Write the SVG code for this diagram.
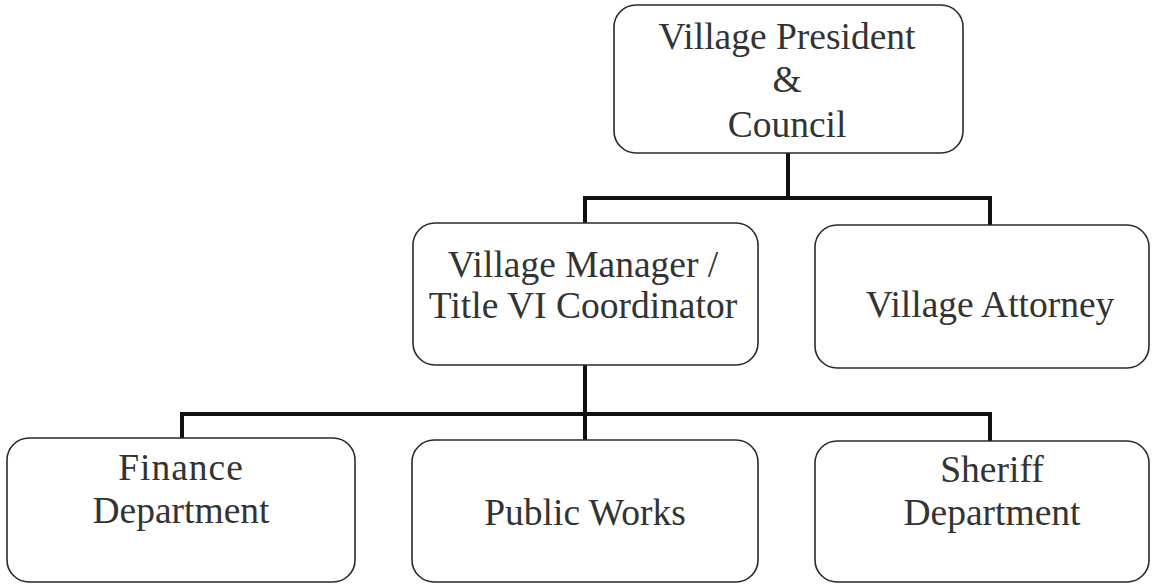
<svg xmlns="http://www.w3.org/2000/svg" width="1157" height="585" viewBox="0 0 1157 585">
<style>
.box{fill:#fff;stroke:#2a2a2a;stroke-width:1.6}
.t{font-family:"Liberation Serif","Times New Roman",serif;font-size:37.5px;fill:#333;text-anchor:middle}
.c{fill:none;stroke:#111;stroke-width:4;stroke-linejoin:miter}
</style>
<rect width="1157" height="585" fill="#fff"/>
<g id="connectors">
<path class="c" d="M788 153 V198 M585 223 V198 H990 V225"/>
<path class="c" d="M585 365 V414 M182 438 V414 H990 V441 M585 414 V440"/>
</g>
<g id="president">
<rect class="box" x="614" y="5" width="349" height="148" rx="22"/>
<text class="t" x="787" y="49">Village President</text>
<text class="t" x="787" y="92">&amp;</text>
<text class="t" x="787" y="137">Council</text>
</g>
<g id="manager">
<rect class="box" x="413" y="223" width="345" height="142" rx="22"/>
<text class="t" x="583" y="277">Village Manager /</text>
<text class="t" x="583" y="318">Title VI Coordinator</text>
</g>
<g id="attorney">
<rect class="box" x="815" y="225" width="334" height="143" rx="22"/>
<text class="t" x="990" y="317">Village Attorney</text>
</g>
<g id="finance">
<rect class="box" x="7" y="438" width="348" height="144" rx="22"/>
<text class="t" x="181" y="480" letter-spacing="1">Finance</text>
<text class="t" x="181" y="523">Department</text>
</g>
<g id="publicworks">
<rect class="box" x="412" y="440" width="346" height="142" rx="22"/>
<text class="t" x="585" y="525">Public Works</text>
</g>
<g id="sheriff">
<rect class="box" x="815" y="441" width="334" height="141" rx="22"/>
<text class="t" x="992" y="482">Sheriff</text>
<text class="t" x="992" y="525">Department</text>
</g>
</svg>
